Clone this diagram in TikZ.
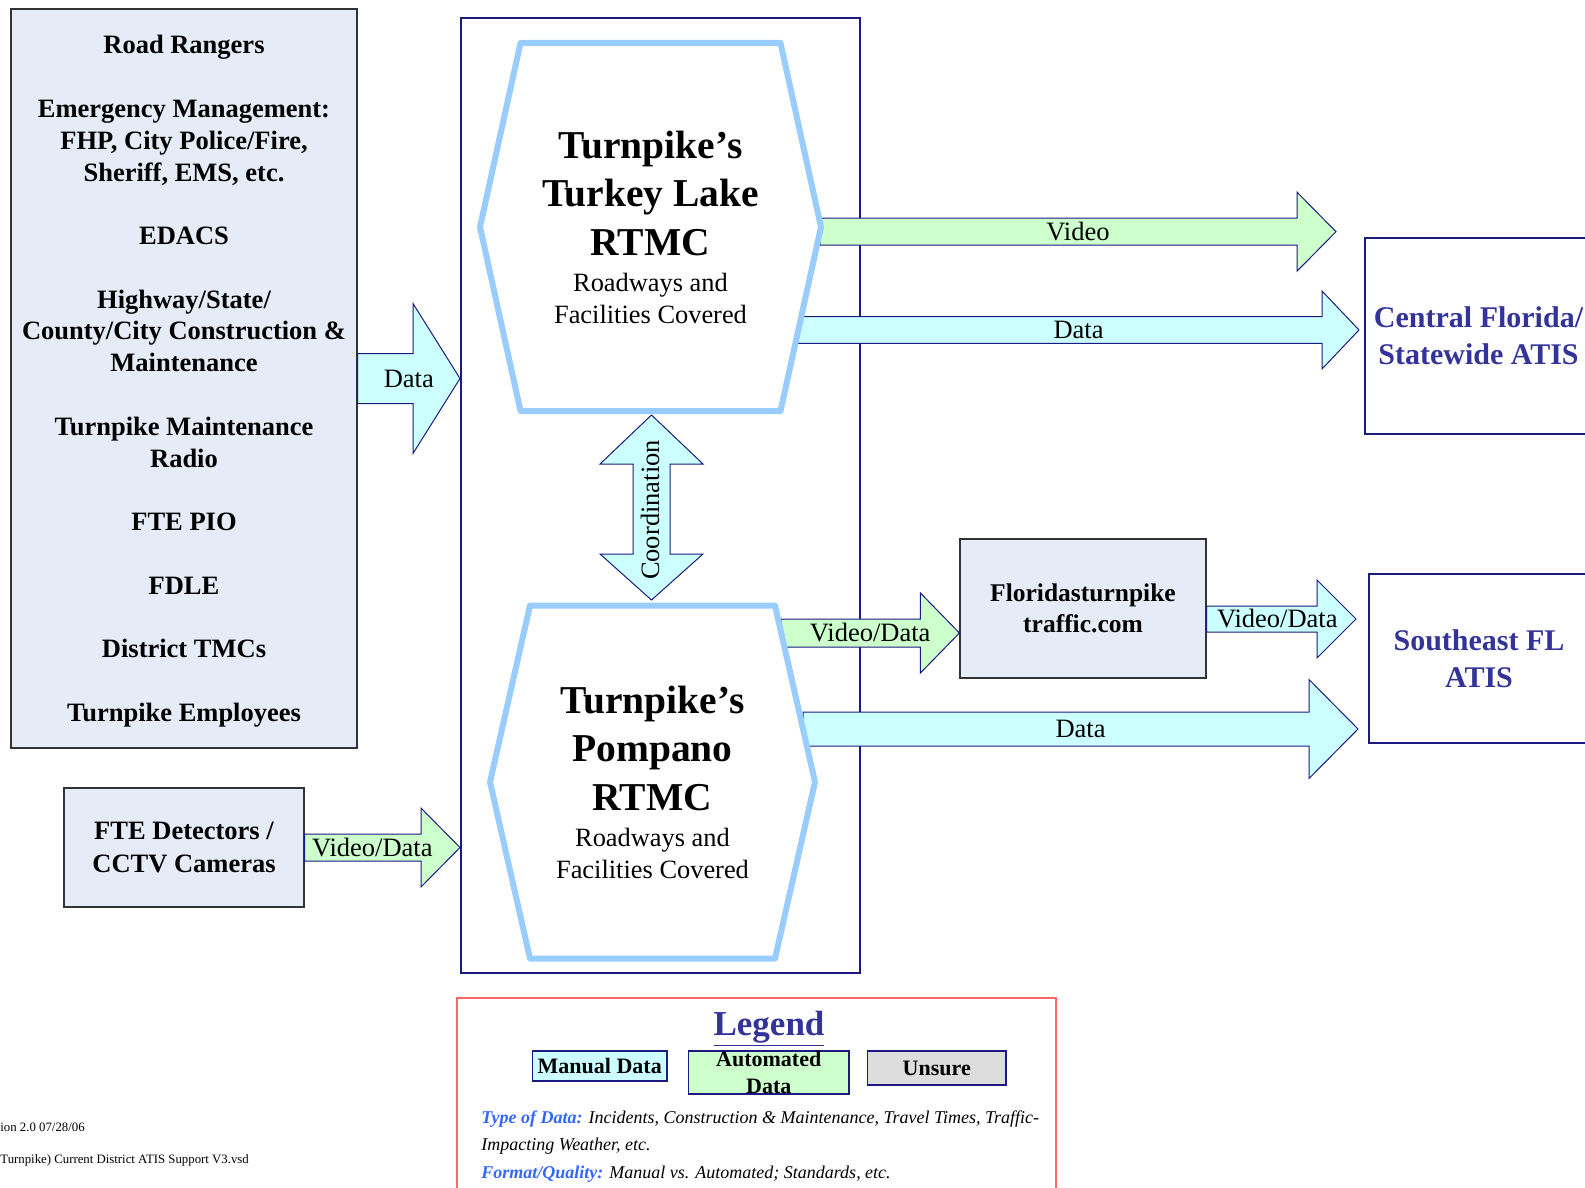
\documentclass[tikz,border=0pt]{standalone}
\usepackage{fontspec}
\setmainfont{Liberation Serif}
\usetikzlibrary{calc}

\definecolor{navyline}{HTML}{1A1A80}
\definecolor{atisblue}{HTML}{333399}
\definecolor{hexblue}{HTML}{99CCFF}
\definecolor{boxgrey}{HTML}{E6ECF7}
\definecolor{manualcyan}{HTML}{CCFFFF}
\definecolor{autogreen}{HTML}{CCFFCC}
\definecolor{unsuregrey}{HTML}{DDDDDD}
\definecolor{legendred}{HTML}{FF6666}
\definecolor{typeblue}{HTML}{3366FF}

% fat block arrow: [label opts]{fill}{from}{to}{shaft}{head}{head length}{label}
\newcommand{\fatarrow}[8][]{%
  \draw[flowline, fill=#2] ($(#3)+(0,-#5)$) -- ($(#4)+(-#7,-#5)$) -- ($(#4)+(-#7,-#6)$) -- (#4)
    -- ($(#4)+(-#7,#6)$) -- ($(#4)+(-#7,#5)$) -- ($(#3)+(0,#5)$) -- cycle;
  \path (#3) -- node[flowlabel, #1] {#8} (#4);}

% hexagon: {centre}{half top width}{half width}{half height}
\newcommand{\rtmchex}[4]{%
  \draw[hexline] ($(#1)+(-#2,-#4)$) -- ($(#1)+(#2,-#4)$) -- ($(#1)+(#3,0)$)
    -- ($(#1)+(#2,#4)$) -- ($(#1)+(-#2,#4)$) -- ($(#1)+(-#3,0)$) -- cycle;}

\begin{document}
\begin{tikzpicture}[
		x=0.5pt, y=-0.5pt,
		srcbox/.style={draw=black!80, line width=0.6pt, fill=boxgrey, align=center,
			font=\fontsize{13.25}{15.9}\selectfont\bfseries},
		atisbox/.style={draw=navyline, line width=1pt, fill=white, align=center, text=atisblue,
			font=\fontsize{15}{18.5}\selectfont\bfseries},
		hexline/.style={draw=hexblue, line width=3pt, fill=white, line join=round},
		flowline/.style={draw=navyline, line width=0.5pt},
		flowlabel/.style={font=\fontsize{13.25}{15}\selectfont, inner sep=0pt},
		hextitle/.style={align=center, font=\fontsize{19.75}{24.25}\selectfont\bfseries},
		hexsub/.style={align=center, font=\fontsize{13.2}{16}\selectfont},
		keybox/.style={draw=navyline, line width=0.6pt, align=center, inner sep=0pt,
			font=\fontsize{11}{13.5}\selectfont\bfseries}
	]
	\useasboundingbox (0,0) rectangle (1585,1188);
	\clip (0,0) rectangle (1585,1188);
	
	% frame round the two centres
	\node[draw=navyline, line width=1pt, minimum width=199.5pt, minimum height=477.5pt] (rtmc) at (660.5,495.5) {};
	
	\node[srcbox, text depth=0pt, minimum width=173pt, minimum height=369.5pt] (src) at (184,378.5)
		{Road Rangers\\[15.9pt]Emergency Management:\\FHP, City Police/Fire,\\Sheriff, EMS, etc.\\[15.9pt]EDACS\\[15.9pt]Highway/State/\\County/City Construction \&\\Maintenance\\[15.9pt]Turnpike Maintenance\\Radio\\[15.9pt]FTE PIO\\[15.9pt]FDLE\\[15.9pt]District TMCs\\[15.9pt]Turnpike Employees};
	\node[srcbox, minimum width=120pt, minimum height=59.5pt, font=\fontsize{13.25}{16.5}\selectfont\bfseries] (fte) at (184,847.5)
		{FTE Detectors /\\CCTV Cameras};
	\node[srcbox, minimum width=123pt, minimum height=69.5pt, font=\fontsize{12.75}{15.5}\selectfont\bfseries] (fturn) at (1083,608.5)
		{Floridasturnpike\\traffic.com};
	\node[atisbox, minimum width=113.5pt, minimum height=98pt] (cfl) at (1478.5,336)
		{Central Florida/\\Statewide ATIS};
	\node[atisbox, minimum width=110pt, minimum height=84.5pt] (sefl) at (1479,658.5)
		{Southeast FL\\ATIS};
	
	\coordinate (tlc) at (650.5,227);
	\coordinate (ppc) at (652.5,782);
	
	% arrow ends
	\coordinate (srcend) at (rtmc.west |- src.east);
	\coordinate (fteend) at (rtmc.west |- fte.east);
	\coordinate (vidA) at (820,231.7);
	\coordinate (vidB) at (1336,231.7);
	\coordinate (datA) at (798,330);
	\coordinate (datB) at (1359,330);
	\coordinate (webA) at (781,633);
	\coordinate (webB) at (fturn.west |- webA);
	\coordinate (seA) at (fturn.east |- 0,619);
	\coordinate (seB) at (1356,619);
	\coordinate (lowA) at (803,729);
	\coordinate (lowB) at (1358,729);
	
	\fatarrow{manualcyan}{src.east}{srcend}{25}{75}{47}{Data}
	\fatarrow[xshift=-5pt]{autogreen}{fte.east}{fteend}{13.5}{39.5}{39}{Video/Data}
	\fatarrow{autogreen}{vidA}{vidB}{13.5}{39.5}{39}{Video}
	\fatarrow{manualcyan}{datA}{datB}{13.3}{39}{37}{Data}
	\fatarrow{autogreen}{webA}{webB}{14}{40}{39}{Video/Data}
	\fatarrow[xshift=-2pt]{manualcyan}{seA}{seB}{13}{39}{39}{Video/Data}
	\fatarrow{manualcyan}{lowA}{lowB}{17}{49.5}{49}{Data}
	
	% coordination between the two centres
	\coordinate (coA) at (651.5,415);
	\coordinate (coB) at (651.5,600);
	\draw[flowline, fill=manualcyan] (coA) -- ++(51.5,49) -- ++(-33,0) -- ++(0,90) -- ++(33,0) -- (coB)
		-- ++(-51.5,-46) -- ++(33,0) -- ++(0,-90) -- ++(-33,0) -- cycle;
	\node[flowlabel, rotate=90] (coord) at (650,510) {Coordination};
	
	\rtmchex{tlc}{130}{170.5}{184}
	\rtmchex{ppc}{122.5}{162.5}{176.5}
	\node[hextitle] (tltitle) at ($(tlc)+(0,-34)$) {Turnpike’s\\Turkey Lake\\RTMC};
	\node[hexsub] (tlsub) at ($(tlc)+(0,71)$) {Roadways and\\Facilities Covered};
	\node[hextitle] (pptitle) at ($(ppc)+(0,-34)$) {Turnpike’s\\Pompano\\RTMC};
	\node[hexsub] (ppsub) at ($(ppc)+(0,71)$) {Roadways and\\Facilities Covered};
	
	% legend
	\node[draw=legendred, line width=0.6pt, minimum width=299.5pt, minimum height=101pt] (legend) at (756.5,1099) {};
	\node[anchor=base, text=atisblue, font=\fontsize{17.5}{20}\selectfont\bfseries] (legendtitle) at (769,1035) {\underline{Legend}};
	\node[keybox, fill=manualcyan, minimum width=67.25pt, minimum height=15pt] (keymanual) at (599.75,1066) {Manual Data};
	\node[keybox, fill=autogreen, minimum width=80.25pt, minimum height=21.5pt] (keyauto) at (768.75,1072.5) {Automated\\Data};
	\node[keybox, fill=unsuregrey, minimum width=69.25pt, minimum height=17pt] (keyunsure) at (936.75,1068) {Unsure};
	\node[anchor=base west, align=left, inner sep=0pt, font=\fontsize{9}{13.75}\selectfont\itshape] (legendtext) at (481,1178)
		{{\color{typeblue}\bfseries Type of Data:} Incidents, Construction \& Maintenance, Travel Times, Traffic-\\Impacting Weather, etc.\\{\color{typeblue}\bfseries Format/Quality:} Manual vs. Automated; Standards, etc.};
	
	\node[anchor=base west, inner sep=0pt, font=\fontsize{6.4}{8}\selectfont] (version) at (0,1131) {ion 2.0 07/28/06};
	\node[anchor=base west, inner sep=0pt, font=\fontsize{6.4}{8}\selectfont] (filename) at (0,1163) {Turnpike) Current District ATIS Support V3.vsd};
\end{tikzpicture}
\end{document}
